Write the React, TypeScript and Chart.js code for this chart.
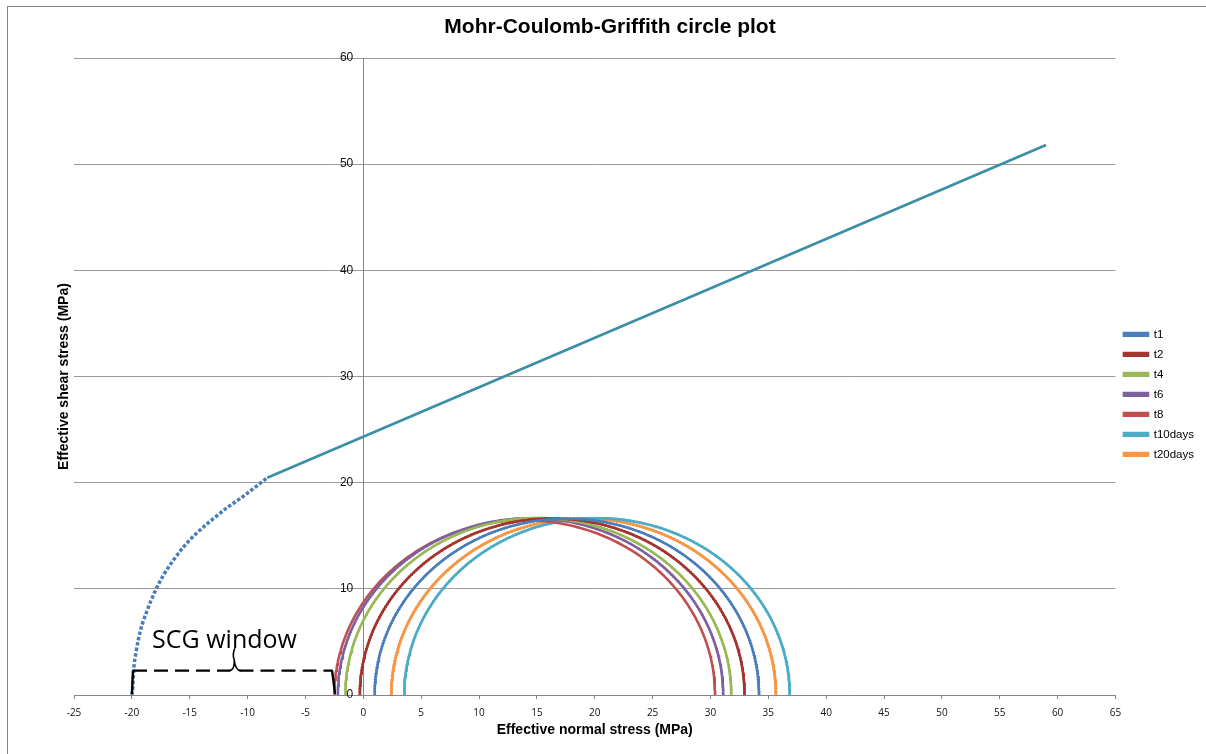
import React, { useEffect, useRef } from "react";
import { Chart, registerables } from "chart.js";

Chart.register(...registerables);

// ---- data ----
const seriesNames = ["t1", "t2", "t4", "t6", "t8", "t10days", "t20days"];
// minimum / maximum effective principal stresses (MPa) of each Mohr circle
const sigma3 = [0.98, -0.3, -1.55, -2.2, -2.5, 3.54, 2.42];
const sigma1 = [34.2, 32.95, 31.8, 31.1, 30.4, 36.85, 35.66];
const seriesColors = ["#4A7EBB", "#A5352F", "#98B954", "#7D60A0", "#C0504D", "#4BACC6", "#F79646"];
const seriesMarkers = ["rectRot", "rect", "triangle", "crossRot", "circle", "star", "circle"];
const seriesMarkerSize = [1.2, 1.2, 1.2, 1.4, 0, 1.4, 1.2];

// Griffith (tensile) part of the failure envelope
const griffithSigma = [-20, -19.94, -19.85, -19.62, -19.27, -18.7, -17.98, -17.26, -16.4, -15.53, -14.37, -13.22, -11.78, -10.34, -8.9, -8.3];
const griffithTau = [0, 0.38, 2.26, 4.14, 6.02, 7.9, 9.8, 11.3, 12.72, 13.95, 15.28, 16.38, 17.63, 18.74, 19.95, 20.46];
// Coulomb (linear) part of the failure envelope
const coulombSigma = [-8.3, 59];
const coulombTau = [20.46, 51.8];

// SCG window annotation
const scgLeftSigma = -20;
const scgRightSigma = -2.45;
const scgTau = 2.3;
const scgBraceSigma = -11.1;
const scgBraceTipTau = 4.4;
const scgLabel = "SCG window";
const scgLabelSigma = -18.25;
const scgLabelTau = 4.4;

const xTickMin = -25;
const xTickMax = 65;
const yTickMin = 0;
const yTickMax = 60;

const FONT = "'Liberation Sans', Arial, sans-serif";

function circlePoints(s3: number, s1: number) {
  const c = (s1 + s3) / 2;
  const r = (s1 - s3) / 2;
  const pts: { x: number; y: number }[] = [];
  for (let i = 180; i >= 0; i--) {
    const a = (Math.PI * i) / 180;
    pts.push({ x: c + r * Math.cos(a), y: r * Math.sin(a) });
  }
  return pts;
}

const scgPlugin = {
  id: "scgWindow",
  afterDatasetsDraw(chart: any) {
    const { ctx, scales } = chart;
    const x = scales.x;
    const y = scales.y;
    const px = (v: number) => x.getPixelForValue(v);
    const py = (v: number) => y.getPixelForValue(v);
    ctx.save();
    ctx.strokeStyle = "#000";
    ctx.lineWidth = 2.4;
    // left end
    ctx.setLineDash([]);
    ctx.beginPath();
    ctx.moveTo(px(scgLeftSigma), py(0.1));
    ctx.lineTo(px(scgLeftSigma + 0.1), py(scgTau));
    ctx.stroke();
    // dashed horizontal
    ctx.setLineDash([14, 7]);
    ctx.beginPath();
    ctx.moveTo(px(scgLeftSigma + 0.1), py(scgTau));
    ctx.lineTo(px(scgBraceSigma - 0.4), py(scgTau));
    ctx.stroke();
    ctx.beginPath();
    ctx.moveTo(px(scgBraceSigma + 0.4), py(scgTau));
    ctx.lineTo(px(scgRightSigma - 0.2), py(scgTau));
    ctx.stroke();
    ctx.setLineDash([]);
    // brace
    ctx.lineWidth = 1.6;
    ctx.beginPath();
    ctx.moveTo(px(scgBraceSigma - 0.5), py(scgTau));
    ctx.quadraticCurveTo(px(scgBraceSigma), py(scgTau), px(scgBraceSigma - 0.05), py(scgTau + 1));
    ctx.quadraticCurveTo(px(scgBraceSigma - 0.25), py(scgBraceTipTau - 0.6), px(scgBraceSigma), py(scgBraceTipTau));
    ctx.moveTo(px(scgBraceSigma + 0.5), py(scgTau));
    ctx.quadraticCurveTo(px(scgBraceSigma + 0.05), py(scgTau), px(scgBraceSigma - 0.05), py(scgTau + 1));
    ctx.stroke();
    // right end
    ctx.lineWidth = 2.4;
    ctx.beginPath();
    ctx.moveTo(px(scgRightSigma - 0.25), py(scgTau));
    ctx.quadraticCurveTo(px(scgRightSigma - 0.1), py(1.2), px(scgRightSigma), py(0.1));
    ctx.stroke();
    // label
    ctx.fillStyle = "#000";
    ctx.font = "25px 'Open Sans', 'Noto Sans', sans-serif";
    ctx.textAlign = "left";
    ctx.textBaseline = "alphabetic";
    ctx.fillText(scgLabel, px(scgLabelSigma), py(scgLabelTau));
    ctx.restore();
  },
};

export default function App() {
  const canvasRef = useRef<HTMLCanvasElement | null>(null);

  useEffect(() => {
    const html = document.documentElement;
    html.style.overflow = "hidden";
    document.body.style.overflow = "hidden";
    if (!canvasRef.current) return;

    const circleSets = seriesNames.map((name, i) => ({
      label: name,
      data: circlePoints(sigma3[i], sigma1[i]),
      showLine: true,
      borderColor: seriesColors[i],
      backgroundColor: seriesColors[i],
      borderWidth: 2.6,
      pointStyle: seriesMarkers[i],
      pointRadius: seriesMarkerSize[i],
      pointBorderWidth: 1,
      pointBorderColor: seriesColors[i],
      pointBackgroundColor: seriesColors[i],
      tension: 0,
      order: 2,
    }));

    const chart = new Chart(canvasRef.current, {
      type: "scatter",
      data: {
        datasets: [
          ...circleSets,
          {
            label: "Griffith envelope",
            data: griffithSigma.map((s, i) => ({ x: s, y: griffithTau[i] })),
            showLine: true,
            borderColor: "#4A7EBB",
            backgroundColor: "#4A7EBB",
            borderWidth: 3.5,
            borderDash: [3.5, 2],
            pointRadius: 0,
            cubicInterpolationMode: "monotone",
            order: 1,
          },
          {
            label: "Coulomb envelope",
            data: coulombSigma.map((s, i) => ({ x: s, y: coulombTau[i] })),
            showLine: true,
            borderColor: "#3A8FA6",
            backgroundColor: "#3A8FA6",
            borderWidth: 2.6,
            pointRadius: 0,
            order: 1,
          },
        ] as any,
      },
      options: {
        animation: false,
        responsive: true,
        maintainAspectRatio: false,
        layout: { padding: { left: 8, right: 3, top: 0, bottom: 16.2 } },
        plugins: {
          title: {
            display: true,
            text: "Mohr-Coulomb-Griffith circle plot",
            color: "#000",
            font: { family: FONT, size: 21, weight: "bold" },
            padding: { top: 8, bottom: 17.8 },
          },
          legend: {
            position: "right",
            align: "center",
            title: { display: true, text: " ", font: { size: 10 }, padding: { top: 15.5, bottom: 15.5 } },
            labels: {
              boxWidth: 24,
              boxHeight: 2.5,
              padding: 8.5,
              color: "#000",
              font: { family: FONT, size: 11.5 },
              filter: (item: any) => item.datasetIndex < seriesNames.length,
            },
          },
          tooltip: { enabled: false },
        },
        scales: {
          x: {
            type: "linear",
            position: "bottom",
            min: xTickMin,
            max: xTickMax,
            ticks: {
              stepSize: 5,
              color: "#111",
              font: { family: "'Open Sans', sans-serif", size: 10 },
              padding: 8,
            },
            grid: { drawOnChartArea: false, drawTicks: true, tickLength: 4, color: "#868686" },
            border: { color: "#868686", width: 1 },
            title: {
              display: true,
              text: "Effective normal stress (MPa)",
              color: "#000",
              font: { family: FONT, size: 14, weight: "bold" },
              padding: { top: -5, bottom: 0 },
            },
          },
          y: {
            type: "linear",
            position: { x: 0 },
            min: yTickMin,
            max: yTickMax,
            ticks: {
              stepSize: 10,
              color: "#111",
              font: { family: FONT, size: 12 },
              callback: (v: any) => `${v}   `,
            },
            grid: { color: "#9a9a9a", drawTicks: false, lineWidth: 1 },
            border: { color: "#868686", width: 1 },
          },
          y2: {
            type: "linear",
            position: "left",
            min: yTickMin,
            max: yTickMax,
            ticks: { display: false },
            grid: { display: false, drawTicks: false },
            border: { display: false },
            title: {
              display: true,
              text: "Effective shear stress (MPa)",
              color: "#000",
              font: { family: FONT, size: 14, weight: "bold" },
              padding: { top: 40.2, bottom: 1 },
            },
          },
        },
      } as any,
      plugins: [scgPlugin],
    });

    return () => chart.destroy();
  }, []);

  return (
    <div
      style={{
        position: "absolute",
        left: 7,
        top: 6,
        width: 1199,
        height: 748,
        borderLeft: "1px solid #868686",
        borderTop: "1px solid #868686",
        background: "#fff",
      }}
    >
      <canvas ref={canvasRef} />
    </div>
  );
}
